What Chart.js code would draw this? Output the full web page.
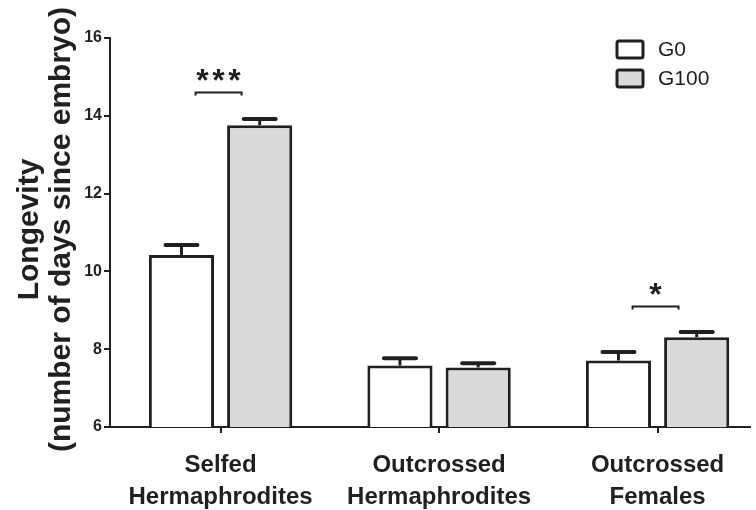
<!DOCTYPE html>
<html>
<head>
<meta charset="utf-8">
<script src="https://cdn.jsdelivr.net/npm/chart.js@4/dist/chart.umd.min.js"></script>
<style>
  html, body { margin: 0; padding: 0; background: #fff; }
  #wrap { width: 756px; height: 510px; }
</style>
</head>
<body>
<div id="wrap"><canvas id="longevityChart"></canvas></div>
<script>
const categories = [["Selfed", "Hermaphrodites"], ["Outcrossed", "Hermaphrodites"], ["Outcrossed", "Females"]];
const seriesNames = ["G0", "G100"];
const g0Mean = [10.42, 7.58, 7.71];
const g0Sem = [0.26, 0.19, 0.22];
const g100Mean = [13.76, 7.53, 8.31];
const g100Sem = [0.16, 0.11, 0.13];
const yTicks = [6, 8, 10, 12, 14, 16];
const sigCategory = [0, 2];
const sigLevel = [14.6, 9.12];
const sigLabel = ["***", "*"];
const yTitle = ["Longevity", "(number of days since embryo)"];

const ink = "#231f20";
const fills = ["#ffffff", "#d9dadc"];
const errs = [g0Sem, g100Sem];
const sans = "'Liberation Sans', Arial, sans-serif";

function toPoints(values) {
    return values.map((v, i) => ({ x: i, y: v }));
}

// error bars (upper only) + significance brackets
const extras = {
    id: "extras",
    afterDatasetsDraw(chart) {
        const ctx = chart.ctx;
        const xs = chart.scales.x;
        const ys = chart.scales.y;
        ctx.save();
        ctx.strokeStyle = ink;
        chart.data.datasets.forEach((ds, di) => {
            chart.getDatasetMeta(di).data.forEach((bar, i) => {
                const top = ys.getPixelForValue(ds.data[i].y + errs[di][i]);
                ctx.lineWidth = 3;
                ctx.lineCap = "butt";
                ctx.beginPath();
                ctx.moveTo(bar.x, bar.y);
                ctx.lineTo(bar.x, top);
                ctx.stroke();
                ctx.lineWidth = 4;
                ctx.lineCap = "round";
                ctx.beginPath();
                ctx.moveTo(bar.x - 16, top);
                ctx.lineTo(bar.x + 16, top);
                ctx.stroke();
            });
        });

        ctx.lineWidth = 2;
        ctx.lineCap = "butt";
        ctx.fillStyle = ink;
        ctx.font = "bold 32px " + sans;
        ctx.textAlign = "center";
        ctx.textBaseline = "alphabetic";
        sigCategory.forEach((c, k) => {
            const cx = xs.getPixelForValue(c) - 2;
            const y = Math.round(ys.getPixelForValue(sigLevel[k])) + 0.5;
            ctx.beginPath();
            ctx.moveTo(cx - 23, y + 3);
            ctx.lineTo(cx - 23, y);
            ctx.lineTo(cx + 23, y);
            ctx.lineTo(cx + 23, y + 3);
            ctx.stroke();
            const n = sigLabel[k].length;
            for (let s = 0; s < n; s++) {
                ctx.fillText("*", cx + (s - (n - 1) / 2) * 16, y - 2);
            }
        });
        ctx.restore();
    },
    afterDraw(chart) {
        const ctx = chart.ctx;
        const area = chart.chartArea;
        ctx.save();
        // y axis title, two rotated lines
        ctx.fillStyle = ink;
        ctx.font = "bold 30px " + sans;
        ctx.textAlign = "center";
        ctx.textBaseline = "alphabetic";
        const cy = (area.top + area.bottom) / 2 - 3;
        yTitle.forEach((line, i) => {
            ctx.save();
            ctx.translate(38 + i * 32, cy);
            ctx.rotate(-Math.PI / 2);
            ctx.fillText(line, 0, 0);
            ctx.restore();
        });

        // legend, top right
        ctx.font = "21px " + sans;
        ctx.textAlign = "left";
        ctx.textBaseline = "middle";
        ctx.lineWidth = 3;
        chart.data.datasets.forEach((ds, i) => {
            const bx = 617, by = 41 + i * 29;
            ctx.fillStyle = ds.backgroundColor;
            ctx.strokeStyle = ink;
            ctx.beginPath();
            ctx.roundRect(bx, by, 26, 17, 2);
            ctx.fill();
            ctx.stroke();
            ctx.fillStyle = ink;
            ctx.fillText(ds.label, 658, by + 9);
        });
        ctx.restore();
    }
};

new Chart(document.getElementById("longevityChart"), {
    type: "bar",
    data: {
        datasets: seriesNames.map((name, i) => ({
            label: name,
            data: toPoints(i === 0 ? g0Mean : g100Mean),
            backgroundColor: fills[i],
            borderColor: ink,
            borderWidth: 3,
            categoryPercentage: 0.716,
            barPercentage: 0.833
        }))
    },
    options: {
        responsive: true,
        maintainAspectRatio: false,
        animation: false,
        layout: { padding: { top: 38, right: 6, left: 0, bottom: 0 } },
        plugins: {
            legend: { display: false },
            tooltip: { enabled: false }
        },
        scales: {
            x: {
                type: "linear",
                min: -0.506,
                max: 2.423,
                offset: false,
                afterBuildTicks: s => { s.ticks = categories.map((c, i) => ({ value: i })); },
                afterFit: s => { s.height = 83; },
                border: { color: ink, width: 2 },
                grid: { offset: false, drawOnChartArea: false, tickLength: 6, color: ink, lineWidth: 2 },
                ticks: {
                    autoSkip: false,
                    maxRotation: 0,
                    padding: 16,
                    color: ink,
                    font: { family: sans, weight: "bold", size: 24, lineHeight: 1.33 },
                    callback: v => categories[v]
                }
            },
            y: {
                min: 6,
                max: 16,
                afterBuildTicks: s => { s.ticks = yTicks.map(v => ({ value: v })); },
                afterFit: s => { s.width = 110; },
                border: { color: ink, width: 2 },
                grid: { drawOnChartArea: false, tickLength: 6, color: ink, lineWidth: 2 },
                ticks: {
                    padding: 2,
                    color: ink,
                    font: { family: sans, weight: "bold", size: 16 }
                }
            }
        }
    },
    plugins: [extras]
});
</script>
</body>
</html>
